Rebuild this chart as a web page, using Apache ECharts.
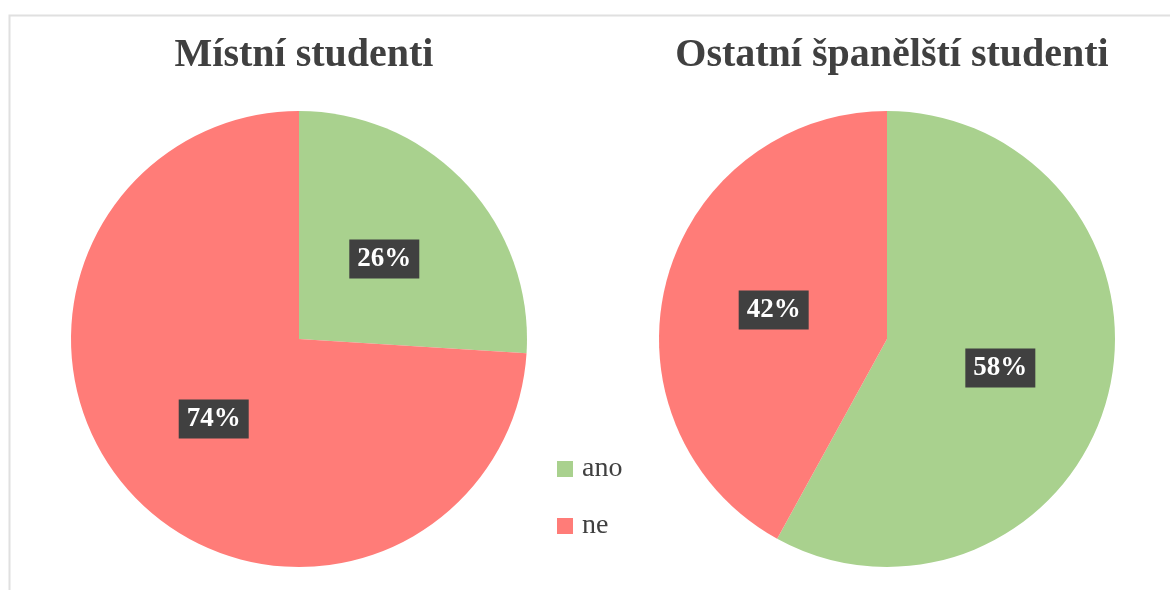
<!DOCTYPE html>
<html>
<head>
<meta charset="utf-8">
<script src="https://cdn.jsdelivr.net/npm/echarts@6/dist/echarts.min.js"></script>
<style>
  html, body { margin: 0; padding: 0; background: #fff; }
  #chart { width: 1170px; height: 590px; }
</style>
</head>
<body>
<div id="chart"></div>
<script>
// data
var categories = ['ano', 'ne'];
var localStudents = [26, 74];
var otherSpanish = [58, 42];
var titles = ['Místní studenti', 'Ostatní španělští studenti'];
var colors = ['#A9D18E', '#FF7C78'];

var font = '"Liberation Serif", "Times New Roman", serif';

function toData(vals) {
  return categories.map(function (c, i) {
    return { name: c, value: vals[i] };
  });
}

function pieSeries(name, vals, cx) {
  return {
    name: name,
    type: 'pie',
    center: [cx, 339],
    radius: 228,
    startAngle: 90,
    clockwise: true,
    silent: true,
    data: toData(vals),
    label: {
      show: true,
      position: 'inside',
      formatter: '{c}%',
      color: '#fff',
      fontFamily: font,
      fontWeight: 'bold',
      fontSize: 27,
      backgroundColor: '#404040',
      padding: [7, 8, 5, 8]
    },
    labelLine: { show: false },
    itemStyle: { borderWidth: 0 }
  };
}

var myChart = echarts.init(document.getElementById('chart'));
myChart.setOption({
  animation: false,
  color: colors,
  graphic: [{
    type: 'rect',
    left: 7,
    top: 13,
    shape: { width: 1200, height: 620 },
    style: { fill: 'none', stroke: '#e0e0e0', lineWidth: 2 },
    silent: true
  }],
  title: [
    {
      text: titles[0],
      left: 299,
      top: 31,
      textAlign: 'center',
      textStyle: { fontFamily: font, fontWeight: 'bold', fontSize: 40, color: '#404040' }
    },
    {
      text: titles[1],
      left: 887,
      top: 31,
      textAlign: 'center',
      textStyle: { fontFamily: font, fontWeight: 'bold', fontSize: 40, color: '#404040' }
    }
  ],
  legend: {
    orient: 'vertical',
    left: 557,
    top: 455,
    padding: 0,
    icon: 'rect',
    itemWidth: 16,
    itemHeight: 16,
    itemGap: 29,
    data: categories,
    textStyle: { fontFamily: font, fontSize: 28, color: '#404040', padding: [0, 0, 0, 4] }
  },
  series: [
    pieSeries(titles[0], localStudents, 299),
    pieSeries(titles[1], otherSpanish, 887)
  ]
});
window.addEventListener('resize', function () {
  myChart.resize();
});
</script>
</body>
</html>
